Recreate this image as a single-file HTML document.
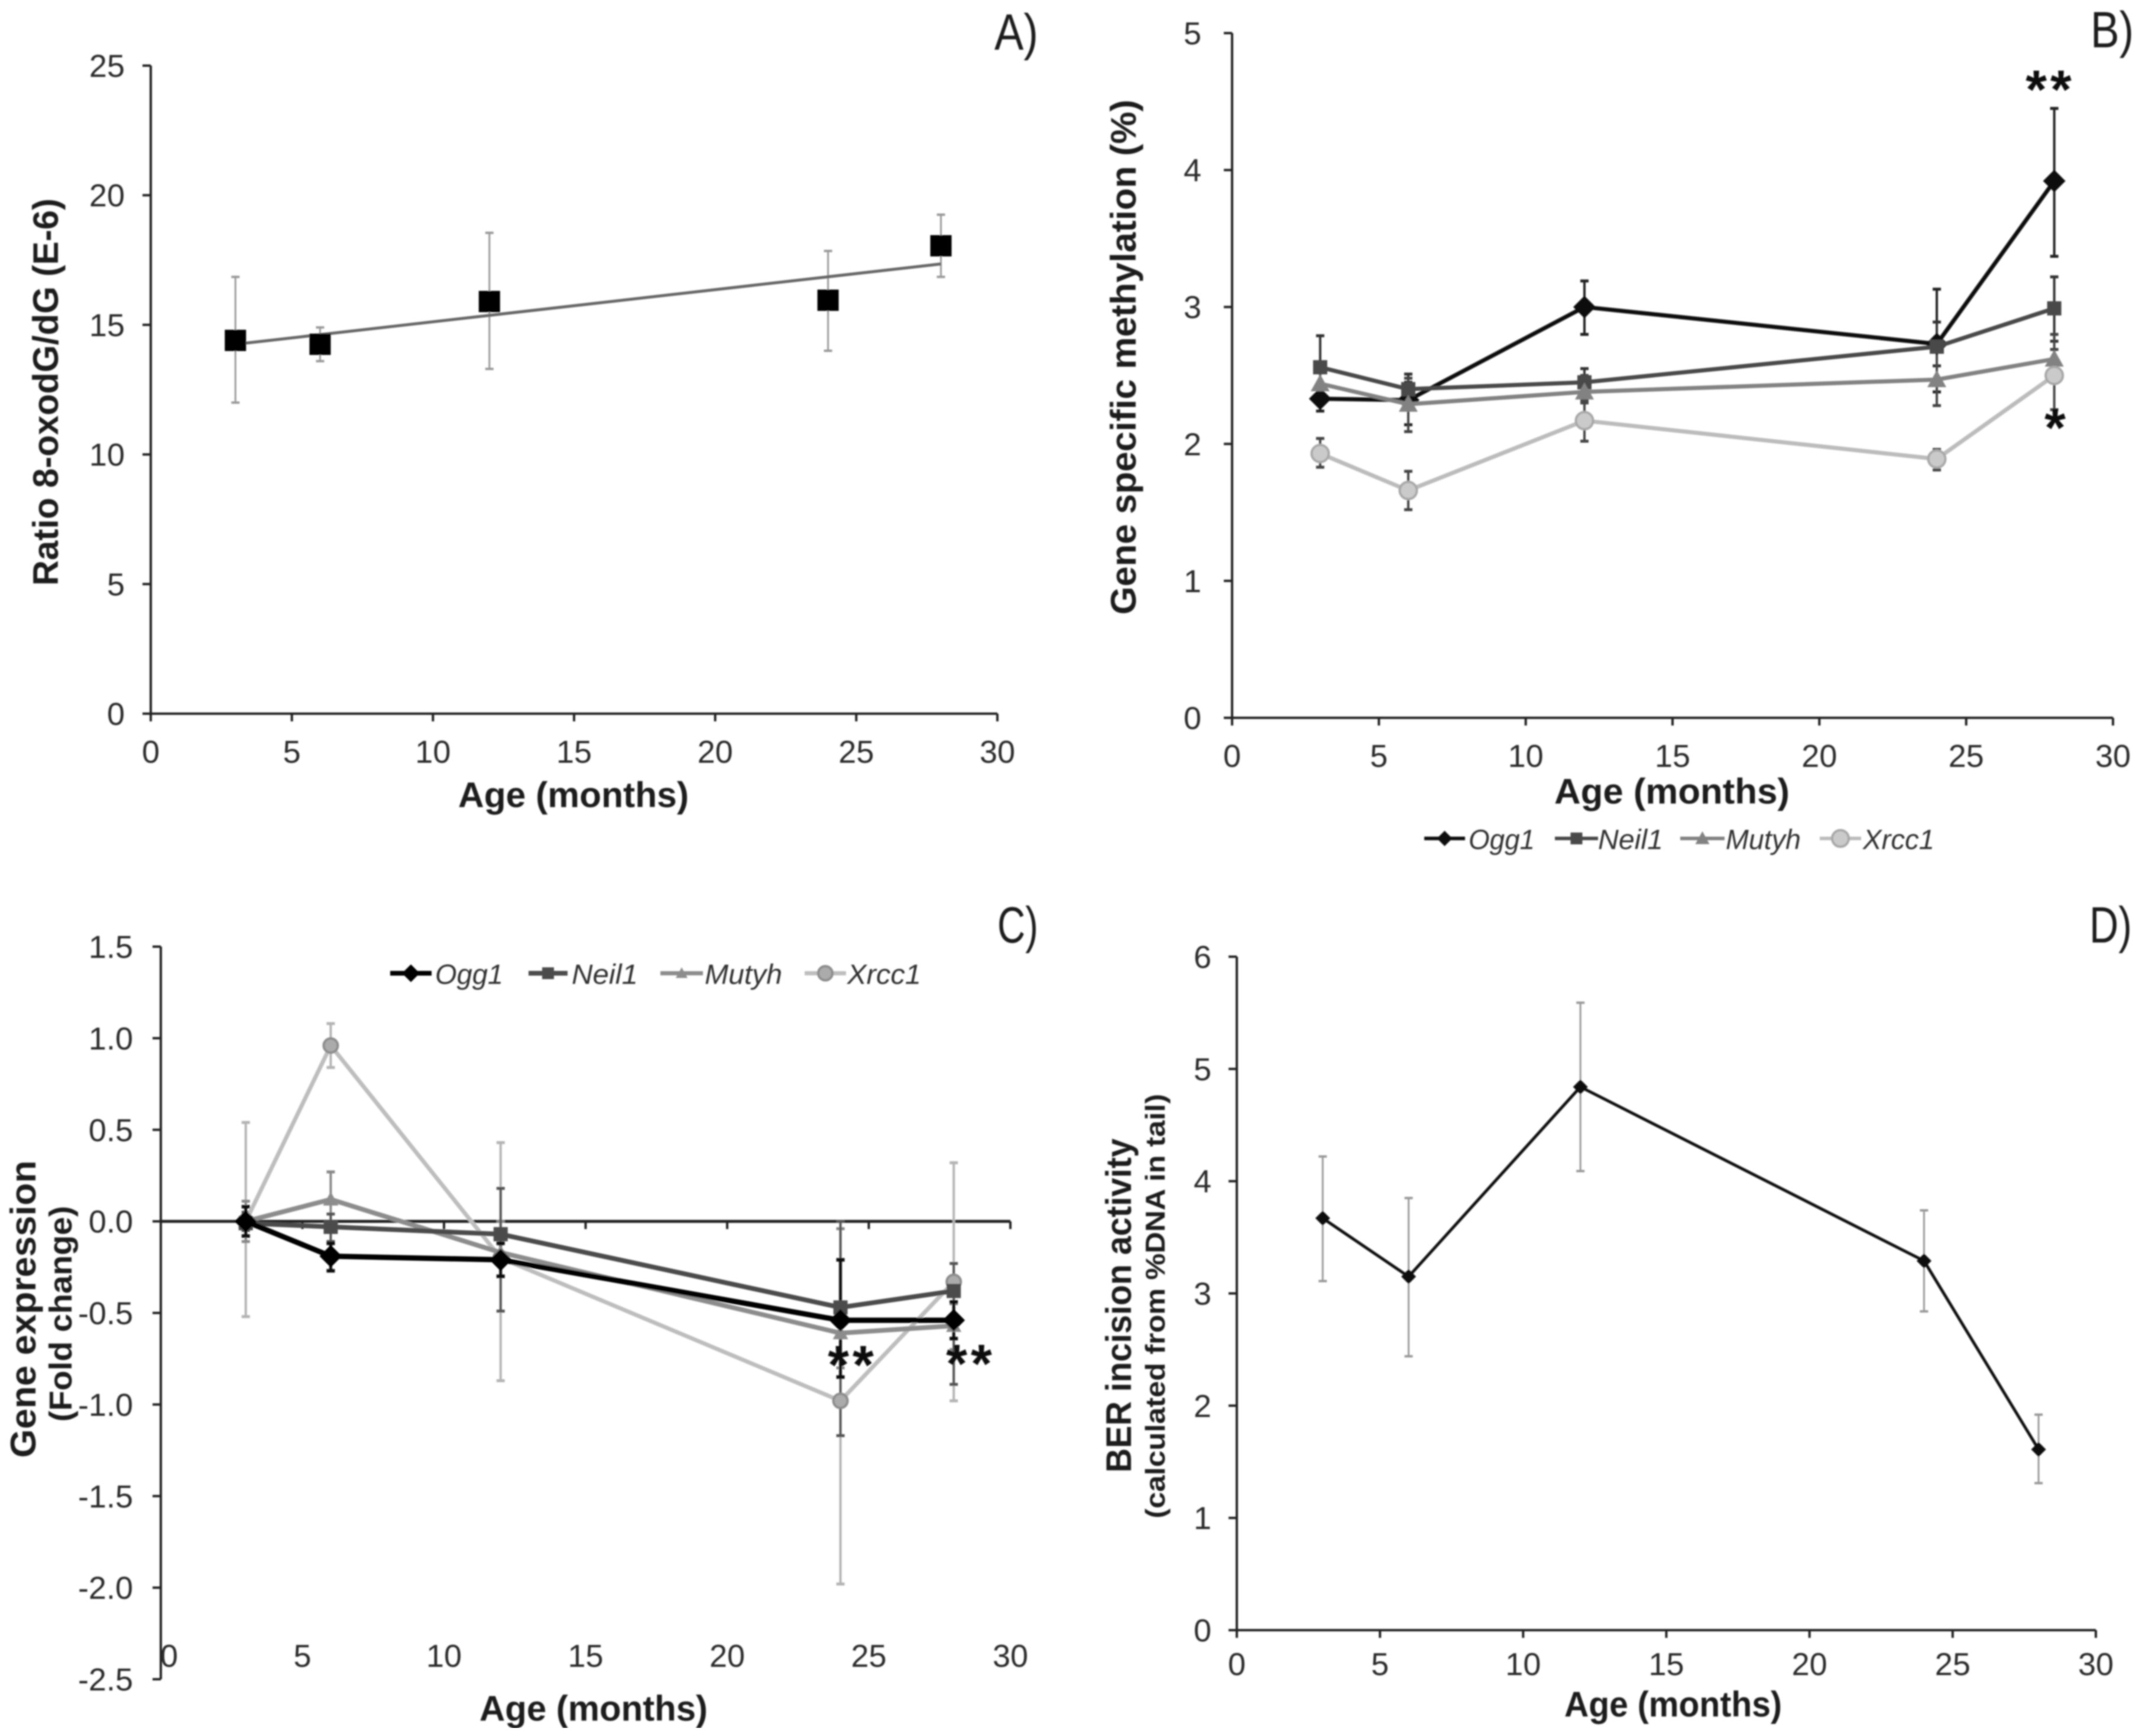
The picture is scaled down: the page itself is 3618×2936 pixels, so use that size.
<!DOCTYPE html>
<html lang="en">
<head>
<meta charset="utf-8">
<title>Age-related 8-oxodG, BER gene methylation, expression and incision activity</title>
<style>
html,body{margin:0;padding:0;background:#fff;}
svg{display:block;}
text{font-family:"Liberation Sans",Arial,sans-serif;}
.t{font-weight:bold;fill:#1c1c1c;font-size:60px;}
.lg{font-style:italic;fill:#333;font-size:47px;}
.pl{fill:#1a1a1a;font-size:86px;}
.st{fill:#111;font-size:92px;font-weight:bold;text-anchor:middle;}
</style>
</head>
<body>
<svg id="fig" xmlns="http://www.w3.org/2000/svg" width="3618" height="2936" viewBox="0 0 3618 2936">
<defs><filter id="soft" x="0" y="0" width="100%" height="100%"><feGaussianBlur stdDeviation="1.3"/></filter></defs>
<rect width="3618" height="2936" fill="#fff"/>
<g filter="url(#soft)">
  <g id="panel-a"></g>
  <g id="panel-b"></g>
  <g id="panel-c"></g>
  <g id="panel-d"></g>

  <text class="pl" x="1682" y="84" textLength="74" lengthAdjust="spacingAndGlyphs">A)</text>
  <text class="pl" x="3536" y="80" textLength="73" lengthAdjust="spacingAndGlyphs">B)</text>
  <text class="pl" x="1687" y="1594" textLength="69" lengthAdjust="spacingAndGlyphs">C)</text>
  <text class="pl" x="3534" y="1594" textLength="72" lengthAdjust="spacingAndGlyphs">D)</text>

  <text class="t" text-anchor="middle" x="970" y="1365" textLength="390" lengthAdjust="spacingAndGlyphs">Age (months)</text>
  <text class="t" text-anchor="middle" x="2828" y="1359" textLength="398" lengthAdjust="spacingAndGlyphs">Age (months)</text>
  <text class="t" text-anchor="middle" x="1004" y="2910" textLength="386" lengthAdjust="spacingAndGlyphs">Age (months)</text>
  <text class="t" text-anchor="middle" x="2830" y="2903" textLength="368" lengthAdjust="spacingAndGlyphs">Age (months)</text>

  <text class="t" text-anchor="middle" transform="translate(98,663) rotate(-90)" textLength="655" lengthAdjust="spacingAndGlyphs">Ratio 8-oxodG/dG (E-6)</text>
  <text class="t" text-anchor="middle" transform="translate(1921,604) rotate(-90)" textLength="871" lengthAdjust="spacingAndGlyphs">Gene specific methylation (%)</text>
  <text class="t" text-anchor="middle" transform="translate(60,2214) rotate(-90)" textLength="503" lengthAdjust="spacingAndGlyphs">Gene expression</text>
  <text class="t" text-anchor="middle" style="font-size:54px" transform="translate(121,2222) rotate(-90)" textLength="365" lengthAdjust="spacingAndGlyphs">(Fold change)</text>
  <text class="t" text-anchor="middle" transform="translate(1913,2208) rotate(-90)" textLength="565" lengthAdjust="spacingAndGlyphs">BER incision activity</text>
  <text class="t" text-anchor="middle" style="font-size:46px" transform="translate(1970,2209) rotate(-90)" textLength="718" lengthAdjust="spacingAndGlyphs">(calculated from %DNA  in tail)</text>

  <g>
    <text class="lg" x="2484" y="1436" textLength="112" lengthAdjust="spacingAndGlyphs">Ogg1</text>
    <text class="lg" x="2703" y="1436" textLength="110" lengthAdjust="spacingAndGlyphs">Neil1</text>
    <text class="lg" x="2919" y="1436" textLength="127" lengthAdjust="spacingAndGlyphs">Mutyh</text>
    <text class="lg" x="3151" y="1436" textLength="121" lengthAdjust="spacingAndGlyphs">Xrcc1</text>
  </g>
  <g>
    <text class="lg" x="736" y="1664" textLength="115" lengthAdjust="spacingAndGlyphs">Ogg1</text>
    <text class="lg" x="967" y="1664" textLength="112" lengthAdjust="spacingAndGlyphs">Neil1</text>
    <text class="lg" x="1192" y="1664" textLength="131" lengthAdjust="spacingAndGlyphs">Mutyh</text>
    <text class="lg" x="1433" y="1664" textLength="125" lengthAdjust="spacingAndGlyphs">Xrcc1</text>
  </g>

  <text class="st" x="3468" y="183" letter-spacing="6">**</text>
  <text class="st" x="3476" y="755">*</text>
  <text class="st" x="1442" y="2340" letter-spacing="6">**</text>
  <text class="st" x="1642" y="2338" letter-spacing="6">**</text>
</g>
</svg>
<script>
// ---------- shared categories and tick labels ----------
const ages = [3, 6, 12, 24, 28];
const xTickValues = [0, 5, 10, 15, 20, 25, 30];
const yTicksA = [0, 5, 10, 15, 20, 25];
const yTicksB = [0, 1, 2, 3, 4, 5];
const yTicksC = [-2.5, -2.0, -1.5, -1.0, -0.5, 0.0, 0.5, 1.0, 1.5];
const yTicksD = [0, 1, 2, 3, 4, 5, 6];

// ---------- panel A ----------
const ratioMean = [14.4, 14.25, 15.9, 15.95, 18.05];
const ratioLower = [12.0, 13.6, 13.3, 14.0, 16.85];
const ratioUpper = [16.85, 14.9, 18.55, 17.85, 19.25];
const trendAges = [3, 28];
const trendValues = [14.25, 17.35];

// ---------- panel B ----------
const methOgg1 = [2.33, 2.32, 3.0, 2.73, 3.92];
const methOgg1Lower = [2.24, 2.14, 2.8, 2.38, 3.37];
const methOgg1Upper = [2.42, 2.45, 3.19, 3.13, 4.45];
const methNeil1 = [2.56, 2.4, 2.45, 2.71, 2.99];
const methNeil1Lower = [2.33, 2.3, 2.3, 2.57, 2.75];
const methNeil1Upper = [2.79, 2.51, 2.55, 2.89, 3.22];
const methMutyh = [2.44, 2.29, 2.38, 2.47, 2.62];
const methMutyhLower = [2.36, 2.09, 2.3, 2.28, 2.5];
const methMutyhUpper = [2.52, 2.48, 2.5, 2.69, 2.8];
const methXrcc1 = [1.93, 1.66, 2.17, 1.89, 2.5];
const methXrcc1Lower = [1.83, 1.52, 2.02, 1.81, 2.25];
const methXrcc1Upper = [2.04, 1.8, 2.32, 1.96, 2.69];

// ---------- panel C ----------
const exprOgg1 = [0, -0.19, -0.21, -0.54, -0.54];
const exprOgg1Lower = [-0.08, -0.27, -0.3, -0.85, -0.64];
const exprOgg1Upper = [0.08, -0.12, -0.12, -0.21, -0.44];
const exprNeil1 = [-0.01, -0.03, -0.07, -0.47, -0.38];
const exprNeil1Lower = [-0.05, -0.11, -0.49, -1.17, -0.89];
const exprNeil1Upper = [0.05, 0.04, 0.18, 0, -0.23];
const exprMutyh = [0, 0.12, -0.17, -0.61, -0.57];
const exprMutyhLower = [-0.11, -0.05, -0.3, -0.8, -0.7];
const exprMutyhUpper = [0.11, 0.27, 0, -0.04, -0.45];
const exprXrcc1 = [0, 0.96, -0.2, -0.98, -0.33];
const exprXrcc1Lower = [-0.52, 0.84, -0.87, -1.98, -0.98];
const exprXrcc1Upper = [0.54, 1.08, 0.43, -0.04, 0.32];

// ---------- panel D ----------
const berMean = [3.67, 3.15, 4.84, 3.29, 1.61];
const berLower = [3.11, 2.44, 4.09, 2.84, 1.31];
const berUpper = [4.22, 3.85, 5.59, 3.74, 1.92];

// ---------- drawing ----------
const NS = 'http://www.w3.org/2000/svg';
function mk(parent, tag, attrs, name) {
  const el = document.createElementNS(NS, tag);
  for (const k in attrs) el.setAttribute(k, attrs[k]);
  
  
  parent.appendChild(el);
  return el;
}
function scale(d0, d1, r0, r1) {
  return v => r0 + (v - d0) / (d1 - d0) * (r1 - r0);
}
function tickLabel(parent, str, x, y, anchor, name) {
  const t = mk(parent, 'text', {
    x: x, y: y, 'text-anchor': anchor, 'font-size': 54, fill: '#2a2a2a'
  }, name);
  t.textContent = str;
}
function axes(p, cfg) {
  const x = scale(0, 30, cfg.x0, cfg.x1);
  const y = scale(cfg.yTicks[0], cfg.yTicks[cfg.yTicks.length - 1], cfg.y0, cfg.y1);
  const ax = cfg.axisY === undefined ? cfg.y0 : y(cfg.axisY);
  const c = '#222', w = 4;
  mk(p, 'line', {x1: cfg.x0, x2: cfg.x0, y1: cfg.y0, y2: cfg.y1, stroke: c, 'stroke-width': w}, 'y-axis-line');
  mk(p, 'line', {x1: cfg.x0, x2: cfg.x1, y1: ax, y2: ax, stroke: c, 'stroke-width': cfg.axisW || w}, 'x-axis-line');
  xTickValues.forEach(v => {
    mk(p, 'line', {x1: x(v), x2: x(v), y1: ax, y2: ax + 13, stroke: c, 'stroke-width': w}, 'x-tick');
    tickLabel(p, String(v), x(v) + (cfg.xLabelShift && v === 0 ? cfg.xLabelShift : 0), cfg.xLabelY, 'middle', 'x-tick-label');
  });
  cfg.yTicks.forEach(v => {
    mk(p, 'line', {x1: cfg.x0 - 14, x2: cfg.x0, y1: y(v), y2: y(v), stroke: c, 'stroke-width': w}, 'y-tick');
    tickLabel(p, cfg.fixed ? v.toFixed(1) : String(v), cfg.yLabelX, y(v) + 19, 'end', 'y-tick-label');
  });
  return {x, y};
}
function marker(p, kind, cx, cy, size, fill, stroke, name) {
  const h = size / 2;
  if (kind === 'square') {
    mk(p, 'rect', {x: cx - h, y: cy - h, width: size, height: size, fill}, name);
  } else if (kind === 'diamond') {
    mk(p, 'polygon', {points: [cx, cy - h, cx + h, cy, cx, cy + h, cx - h, cy].join(','), fill}, name);
  } else if (kind === 'triangle') {
    mk(p, 'polygon', {points: [cx, cy - h, cx + h, cy + h * 0.8, cx - h, cy + h * 0.8].join(','), fill}, name);
  } else {
    mk(p, 'circle', {cx, cy, r: h, fill, stroke: stroke || fill, 'stroke-width': 4}, name);
  }
}
function errorBars(p, s, xs, ys, lower, upper, color, width) {
  ages.forEach((a, i) => {
    const px = xs(a);
    mk(p, 'line', {x1: px, x2: px, y1: ys(lower[i]), y2: ys(upper[i]), stroke: color, 'stroke-width': width}, s + '-error-bar');
    [lower[i], upper[i]].forEach(v => {
      mk(p, 'line', {x1: px - 7, x2: px + 7, y1: ys(v), y2: ys(v), stroke: color, 'stroke-width': width + 1}, s + '-error-cap');
    });
  });
}
function series(p, s, xs, ys, values, o) {
  const pts = ages.map((a, i) => xs(a) + ',' + ys(values[i])).join(' ');
  if (o.line !== false) {
    mk(p, 'polyline', {points: pts, fill: 'none', stroke: o.color, 'stroke-width': o.width, 'stroke-linejoin': 'round'}, s + '-line');
  }
  ages.forEach((a, i) => {
    marker(p, o.kind, xs(a), ys(values[i]), o.size, o.fill || o.color, o.stroke, s + '-point');
  });
}
function legendKey(p, s, x0, x1, y, o) {
  mk(p, 'line', {x1: x0, x2: x1, y1: y, y2: y, stroke: o.color, 'stroke-width': o.width}, s + '-legend-line');
  marker(p, o.kind, (x0 + x1) / 2, y, o.size, o.fill || o.color, o.stroke, s + '-legend-marker');
}

// Panel A
(function () {
  const p = document.getElementById('panel-a');
  const a = axes(p, {x0: 255, x1: 1687, y0: 1207, y1: 111, yTicks: yTicksA, xLabelY: 1290, yLabelX: 211});
  errorBars(p, 'ratio', a.x, a.y, ratioLower, ratioUpper, '#999', 3);
  mk(p, 'line', {x1: a.x(trendAges[0]), y1: a.y(trendValues[0]), x2: a.x(trendAges[1]), y2: a.y(trendValues[1]), stroke: '#666', 'stroke-width': 5}, 'trend-line');
  series(p, 'ratio', a.x, a.y, ratioMean, {line: false, kind: 'square', size: 36, color: '#000'});
})();

// Panel B
(function () {
  const p = document.getElementById('panel-b');
  const a = axes(p, {x0: 2084, x1: 3574, y0: 1214, y1: 56, yTicks: yTicksB, xLabelY: 1297, yLabelX: 2032});
  const st = {
    ogg1: {kind: 'diamond', size: 38, color: '#111', width: 7},
    neil1: {kind: 'square', size: 24, color: '#484848', width: 7},
    mutyh: {kind: 'triangle', size: 32, color: '#828282', width: 7},
    xrcc1: {kind: 'circle', size: 29, color: '#bcbcbc', fill: '#cacaca', stroke: '#a8a8a8', width: 7}
  };
  errorBars(p, 'ogg1', a.x, a.y, methOgg1Lower, methOgg1Upper, '#222', 4);
  errorBars(p, 'neil1', a.x, a.y, methNeil1Lower, methNeil1Upper, '#333', 4);
  errorBars(p, 'mutyh', a.x, a.y, methMutyhLower, methMutyhUpper, '#444', 4);
  errorBars(p, 'xrcc1', a.x, a.y, methXrcc1Lower, methXrcc1Upper, '#444', 4);
  series(p, 'ogg1', a.x, a.y, methOgg1, st.ogg1);
  series(p, 'neil1', a.x, a.y, methNeil1, st.neil1);
  series(p, 'mutyh', a.x, a.y, methMutyh, st.mutyh);
  series(p, 'xrcc1', a.x, a.y, methXrcc1, st.xrcc1);
  legendKey(p, 'ogg1', 2409, 2478, 1418, {kind: 'diamond', size: 26, color: '#111', width: 6});
  legendKey(p, 'neil1', 2630, 2703, 1418, {kind: 'square', size: 20, color: '#484848', width: 6});
  legendKey(p, 'mutyh', 2842, 2917, 1418, {kind: 'triangle', size: 24, color: '#828282', width: 6});
  legendKey(p, 'xrcc1', 3078, 3148, 1418, {kind: 'circle', size: 28, color: '#bcbcbc', fill: '#cacaca', stroke: '#a8a8a8', width: 6});
})();

// Panel C
(function () {
  const p = document.getElementById('panel-c');
  const a = axes(p, {x0: 272, x1: 1709, y0: 2840, y1: 1601, yTicks: yTicksC, axisY: 0, axisW: 5, fixed: true, xLabelY: 2819, yLabelX: 225, xLabelShift: 14});
  const st = {
    ogg1: {kind: 'diamond', size: 38, color: '#050505', width: 9},
    neil1: {kind: 'square', size: 24, color: '#4c4c4c', width: 8},
    mutyh: {kind: 'triangle', size: 26, color: '#8c8c8c', width: 8},
    xrcc1: {kind: 'circle', size: 24, color: '#bdbdbd', fill: '#ababab', stroke: '#8c8c8c', width: 7}
  };
  errorBars(p, 'xrcc1', a.x, a.y, exprXrcc1Lower, exprXrcc1Upper, '#b4b4b4', 4);
  errorBars(p, 'mutyh', a.x, a.y, exprMutyhLower, exprMutyhUpper, '#888', 4);
  errorBars(p, 'neil1', a.x, a.y, exprNeil1Lower, exprNeil1Upper, '#555', 4);
  errorBars(p, 'ogg1', a.x, a.y, exprOgg1Lower, exprOgg1Upper, '#111', 5);
  series(p, 'xrcc1', a.x, a.y, exprXrcc1, st.xrcc1);
  series(p, 'mutyh', a.x, a.y, exprMutyh, st.mutyh);
  series(p, 'neil1', a.x, a.y, exprNeil1, st.neil1);
  series(p, 'ogg1', a.x, a.y, exprOgg1, st.ogg1);
  legendKey(p, 'ogg1', 660, 730, 1646, {kind: 'diamond', size: 30, color: '#050505', width: 8});
  legendKey(p, 'neil1', 894, 960, 1646, {kind: 'square', size: 20, color: '#4c4c4c', width: 8});
  legendKey(p, 'mutyh', 1117, 1189, 1646, {kind: 'triangle', size: 20, color: '#8c8c8c', width: 7});
  legendKey(p, 'xrcc1', 1361, 1431, 1646, {kind: 'circle', size: 24, color: '#bdbdbd', fill: '#ababab', stroke: '#8c8c8c', width: 7});
})();

// Panel D
(function () {
  const p = document.getElementById('panel-d');
  const a = axes(p, {x0: 2092, x1: 3545, y0: 2757, y1: 1618, yTicks: yTicksD, xLabelY: 2833, yLabelX: 2049});
  errorBars(p, 'ber', a.x, a.y, berLower, berUpper, '#999', 3);
  series(p, 'ber', a.x, a.y, berMean, {kind: 'diamond', size: 25, color: '#0a0a0a', width: 5});
})();
</script>
</body>
</html>
